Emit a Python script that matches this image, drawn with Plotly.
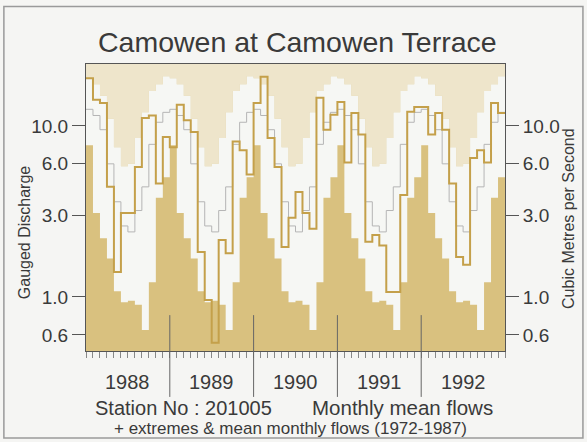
import math
import plotly.graph_objects as go

years = ["1988", "1989", "1990", "1991", "1992"]
month_names = ["Jan", "Feb", "Mar", "Apr", "May", "Jun", "Jul", "Aug", "Sep", "Oct", "Nov", "Dec"]

# Extremes & mean monthly flows 1972-1987 (m3/s)
max_flow = [19.0, 17.5, 15.0, 11.0, 7.5, 5.8, 6.0, 8.5, 12.0, 16.0, 17.5, 19.5]
min_flow = [7.7, 3.1, 2.2, 1.68, 1.08, 0.93, 0.95, 0.90, 0.64, 1.22, 3.8, 5.0]
mean_flow = [12.5, 11.5, 9.5, 6.0, 3.6, 2.6, 2.4, 3.2, 4.4, 7.8, 10.5, 12.0]

# Monthly mean flows 1988-1992
flow_1988 = [19.0, 14.2, 13.6, 4.4, 1.40, 3.1, 3.1, 5.75, 11.1, 11.5, 4.6, 8.6]
flow_1989 = [7.5, 13.3, 10.8, 9.2, 1.83, 0.96, 0.54, 2.15, 1.8, 8.1, 7.2, 5.2]
flow_1990 = [13.6, 19.4, 8.5, 5.75, 1.96, 2.9, 4.1, 3.1, 2.5, 14.6, 9.5, 11.6]
flow_1991 = [13.8, 6.1, 11.9, 8.9, 2.1, 2.3, 2.0, 1.07, 1.07, 3.95, 12.1, 12.9]
flow_1992 = [12.9, 8.9, 11.9, 9.5, 4.6, 1.71, 1.54, 6.5, 7.2, 6.1, 13.6, 11.9]

y_tickvals = [0.6, 1.0, 3.0, 6.0, 10.0]
y_ticktext = ["0.6", "1.0", "3.0", "6.0", "10.0"]

flows = flow_1988 + flow_1989 + flow_1990 + flow_1991 + flow_1992
n_years = len(years)
maxs = max_flow * n_years
mins = min_flow * n_years
means = mean_flow * n_years
n = len(flows)
xs = list(range(n + 1))

def stepped(v):
    return v + [v[-1]]

LIGHT_TAN = "#EEE5CB"
WHITE = "#F6F7F4"
DARK_TAN = "#D9C17F"
GOLD = "#C4A04A"
FONT = "Liberation Sans, Arial, sans-serif"
TXT = "#3a3a3a"

fig = go.Figure()
fig.add_trace(go.Scatter(x=xs, y=[1000] * (n + 1), mode="lines", line=dict(width=0, shape="hv"),
                         hoverinfo="skip", showlegend=False))
fig.add_trace(go.Scatter(x=xs, y=stepped(maxs), mode="lines", line=dict(width=0, shape="hv"),
                         fill="tonexty", fillcolor=LIGHT_TAN, hoverinfo="skip", showlegend=False))
fig.add_trace(go.Scatter(x=xs, y=stepped(mins), mode="lines", line=dict(width=0, shape="hv"),
                         fill="tonexty", fillcolor=WHITE, hoverinfo="skip", showlegend=False))
fig.add_trace(go.Scatter(x=xs, y=stepped(means), mode="lines",
                         line=dict(width=1, color="#B5B5B5", shape="hv"), showlegend=False))
fig.add_trace(go.Scatter(x=xs, y=stepped(flows), mode="lines",
                         line=dict(width=2, color=GOLD, shape="hv"), showlegend=False))
fig.add_trace(go.Scatter(x=[0], y=[1], yaxis="y2", mode="markers", marker=dict(opacity=0),
                         hoverinfo="skip", showlegend=False))

yr = [math.log10(0.483), math.log10(23)]
yaxis_common = dict(type="log", range=yr, tickvals=y_tickvals, ticktext=y_ticktext,
                    ticks="outside", ticklen=13, tickcolor="#555", tickwidth=1,
                    tickfont=dict(family=FONT, size=19, color=TXT),
                    showgrid=False, zeroline=False, showline=True, linecolor="#555", linewidth=1)

fig.update_layout(
    width=587, height=442,
    margin=dict(l=86, r=82, t=64, b=91),
    paper_bgcolor="#F5F5F3",
    plot_bgcolor=DARK_TAN,
    xaxis=dict(range=[0, n], tickvals=xs, ticks="outside", ticklen=6, tickcolor="#888",
               showticklabels=False, showgrid=False, zeroline=False,
               showline=True, linecolor="#555", linewidth=1, mirror=True),
    yaxis=dict(**yaxis_common),
    yaxis2=dict(**yaxis_common, overlaying="y", side="right"),
)

annotations = [
    dict(text="Camowen at Camowen Terrace", x=0.505, y=1.0, xref="paper", yref="paper",
         yshift=4, yanchor="bottom", showarrow=False, font=dict(family=FONT, size=28.5, color=TXT),
         xanchor="center"),
    dict(text="Gauged Discharge", x=-0.17, y=0.415, xref="paper", yref="paper", textangle=-90,
         showarrow=False, font=dict(family=FONT, size=16, color=TXT)),
    dict(text="Cubic Metres per Second", x=1.175, y=0.463, xref="paper", yref="paper", textangle=-90,
         showarrow=False, font=dict(family=FONT, size=16, color=TXT)),
    dict(text="Station No : 201005", x=0.016, y=-0.245, xref="paper", yref="paper", xanchor="left",
         showarrow=False, font=dict(family=FONT, size=20, color=TXT)),
    dict(text="Monthly mean flows", x=0.535, y=-0.245, xref="paper", yref="paper", xanchor="left",
         showarrow=False, font=dict(family=FONT, size=20.5, color=TXT)),
    dict(text="+ extremes & mean monthly flows (1972-1987)", x=0.062, y=-0.31, xref="paper", yref="paper",
         xanchor="left", showarrow=False, font=dict(family=FONT, size=17, color=TXT)),
]
for i, yname in enumerate(years):
    annotations.append(dict(text=yname, x=12 * i + 6, y=-0.153, xref="x", yref="paper",
                            showarrow=False, font=dict(family=FONT, size=20, color=TXT)))
fig.update_layout(annotations=annotations)

shapes = []
for i in range(1, n_years):
    shapes.append(dict(type="line", x0=12 * i, x1=12 * i, y0=-0.16, y1=0.125, xref="x", yref="paper",
                       line=dict(color="#666", width=1)))
shapes.append(dict(type="rect", x0=-0.196, x1=1.186, y0=-0.303, y1=1.2, xref="paper", yref="paper",
                   line=dict(color="#9a9a9a", width=1.5), layer="below"))
fig.update_layout(shapes=shapes)

fig.write_html("out.html", config={"displayModeBar": False},
               post_script="document.body.style.margin='0px';document.body.style.overflow='hidden';")
